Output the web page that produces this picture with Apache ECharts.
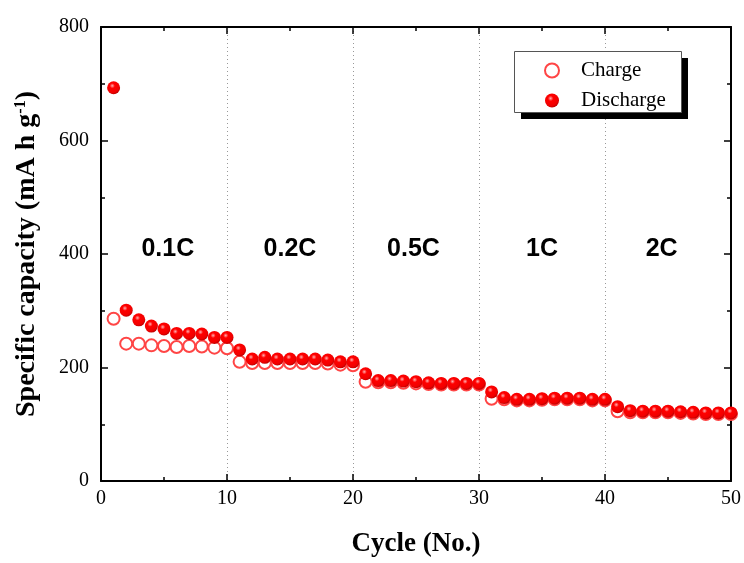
<!DOCTYPE html>
<html><head><meta charset="utf-8">
<script src="https://cdn.jsdelivr.net/npm/echarts@6/dist/echarts.min.js"></script>
<style>html,body{margin:0;padding:0;background:#fff}#c{width:744px;height:563px}</style>
</head><body><div id="c"></div>
<script>
const cycles = Array.from({length:50},(_,i)=>i+1);
const charge = [286,242,242,239,238,236,238,237,235,234,210,208,208,208,208,208,208,207,205,204,175,174,174,173,172,171,170,170,170,170,145,144,142,142,143,144,144,144,142,142,123,121,121,121,121,120,119,118,118,118];
const discharge = [693,301,284,273,268,260,260,259,253,253,231,215,218,215,215,215,215,213,210,210,189,177,177,176,175,173,172,172,172,172,157,147,144,144,145,146,146,146,144,144,131,124,123,123,123,122,121,120,120,120];
const rateLabels = ['0.1C','0.2C','0.5C','1C','2C'];
const rateX = [5.3,15,24.8,35,44.5];
const rateY = 408;

const serif = 'Liberation Serif';
const ball = {type:'radial',x:0.4,y:0.35,r:0.65,colorStops:[{offset:0,color:'#ffb0b0'},{offset:0.3,color:'#ff0000'},{offset:0.8,color:'#f00000'},{offset:1,color:'#c00000'}]};

const chart = echarts.init(document.getElementById('c'));
const axisCommon = {
  axisLine:{show:true,onZero:false,lineStyle:{color:'#000',width:2}},
  axisTick:{show:true,inside:true,length:7,lineStyle:{color:'#000',width:1.5}},
  minorTick:{show:true,splitNumber:2,length:4,lineStyle:{color:'#000',width:1.5}},
};
chart.setOption({
  animation:false,
  grid:{left:101,right:11,top:27,bottom:79,containLabel:false},
  graphic:[
    {type:'rect',left:521,top:58,shape:{width:167,height:61},style:{fill:'#000'},z:10},
    {type:'rect',left:514,top:51,shape:{width:167,height:61},style:{fill:'#fff',stroke:'#555',lineWidth:1},z:11}
  ],
  legend:{
    orient:'vertical',left:544,top:60,z:20,
    padding:0,itemGap:9,itemWidth:14,itemHeight:14,
    textStyle:{fontFamily:serif,fontSize:21,color:'#000',padding:[0,0,0,17]},
    data:['Charge','Discharge']
  },
  xAxis:[
    Object.assign({type:'value',min:0,max:50,interval:10,
      name:'Cycle (No.)',nameLocation:'middle',nameGap:50,
      nameTextStyle:{fontFamily:serif,fontSize:27,fontWeight:'bold',color:'#000'},
      axisLabel:{fontFamily:serif,fontSize:20,color:'#000',margin:8},
      splitLine:{show:true,lineStyle:{color:'#999',type:[1,3],width:1}}},axisCommon),
    Object.assign({type:'value',min:0,max:50,interval:10,position:'top',
      axisLabel:{show:false},splitLine:{show:false}},axisCommon)
  ],
  yAxis:[
    Object.assign({type:'value',min:0,max:800,interval:200,
      name:'{b|Specific capacity (mA h g}{s|-1}{b|)}',nameLocation:'middle',nameGap:60,
      nameTextStyle:{rich:{
        b:{fontFamily:serif,fontSize:28,fontWeight:'bold',color:'#000'},
        s:{fontFamily:serif,fontSize:16,fontWeight:'bold',color:'#000',verticalAlign:'top',padding:[0,0,12,0]}}},
      axisLabel:{fontFamily:serif,fontSize:20,color:'#000',margin:12},
      splitLine:{show:false}},axisCommon),
    Object.assign({type:'value',min:0,max:800,interval:200,position:'right',
      axisLabel:{show:false},splitLine:{show:false}},axisCommon)
  ],
  series:[
    {name:'Charge',type:'scatter',symbol:'emptyCircle',symbolSize:12,
     itemStyle:{color:'#ff4545',borderWidth:1.2,opacity:1},
     data:cycles.map((c,i)=>[c,charge[i]]),z:2},
    {name:'Discharge',type:'scatter',symbol:'circle',symbolSize:13,
     itemStyle:{color:ball,opacity:1},
     data:cycles.map((c,i)=>[c,discharge[i]]),z:3},
    {name:'rates',type:'scatter',symbolSize:0,silent:true,
     itemStyle:{opacity:1},
     label:{show:true,position:'inside',formatter:p=>p.name,
       fontFamily:'Liberation Sans',fontWeight:'bold',fontSize:25,color:'#000',textBorderWidth:0},
     data:rateLabels.map((t,i)=>({name:t,value:[rateX[i],rateY]})),z:4}
  ]
});
</script></body></html>
